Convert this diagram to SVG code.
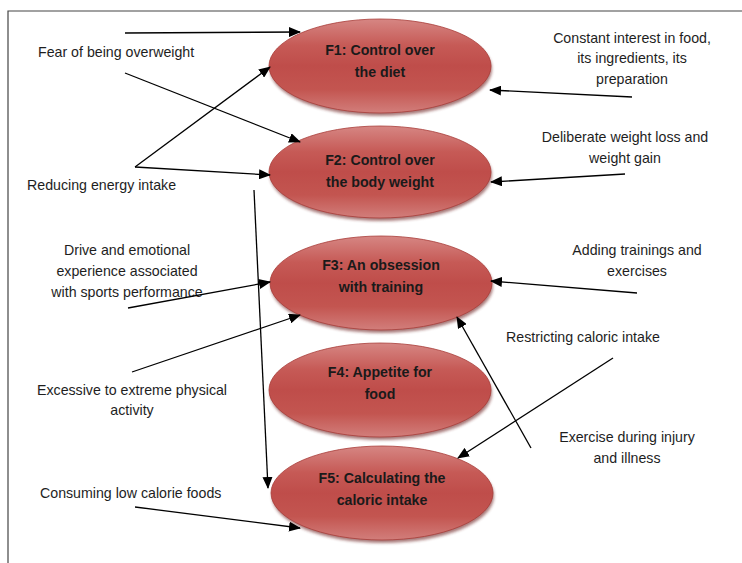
<svg xmlns="http://www.w3.org/2000/svg" width="742" height="563" viewBox="0 0 742 563">
<defs>
<linearGradient id="g" x1="0" y1="0" x2="0" y2="1">
<stop offset="0" stop-color="#d68683"/>
<stop offset="0.28" stop-color="#c65a56"/>
<stop offset="0.5" stop-color="#bf4d4a"/>
<stop offset="0.75" stop-color="#c35550"/>
<stop offset="1" stop-color="#d27e7b"/>
</linearGradient>
<filter id="sh" x="-10%" y="-10%" width="120%" height="130%">
<feGaussianBlur stdDeviation="1.5"/>
</filter>
<marker id="ah" markerUnits="userSpaceOnUse" markerWidth="12" markerHeight="10" refX="11" refY="5" orient="auto">
<path d="M0,0 L12,5 L0,10 z" fill="#000"/>
</marker>
<style>
.ell{fill:url(#g);stroke:#a83c38;stroke-width:0.8}
.shd{fill:#6e2220;opacity:0.6;filter:url(#sh)}
.nt{font-family:"Liberation Sans",Arial,sans-serif;font-weight:bold;font-size:14.2px;fill:#1a1a1a;text-anchor:middle}
.lb{font-family:"Liberation Sans",Arial,sans-serif;font-size:14.2px;fill:#1e1e1e}
.c{text-anchor:middle}
.cn line{stroke:#000;stroke-width:1.3;marker-end:url(#ah)}
.fr{stroke:#444;stroke-width:1.2;fill:none}
</style>
</defs>
<rect width="742" height="563" fill="#fff"/>
<path class="fr" d="M8,563 L8,11 L742,11"/>

<g id="F1"><ellipse class="shd" cx="381" cy="69" rx="111" ry="47"/><ellipse class="ell" cx="380" cy="66" rx="111" ry="47"/><text class="nt" x="380" y="55">F1: Control over</text><text class="nt" x="380" y="77">the diet</text></g>
<g id="F2"><ellipse class="shd" cx="381" cy="175" rx="111" ry="46"/><ellipse class="ell" cx="380" cy="172" rx="111" ry="46"/><text class="nt" x="380" y="165">F2: Control over</text><text class="nt" x="380" y="187">the body weight</text></g>
<g id="F3"><ellipse class="shd" cx="382" cy="286" rx="111" ry="47"/><ellipse class="ell" cx="381" cy="283" rx="111" ry="47"/><text class="nt" x="381" y="270">F3: An obsession</text><text class="nt" x="381" y="292">with training</text></g>
<g id="F4"><ellipse class="shd" cx="381" cy="393" rx="111" ry="47"/><ellipse class="ell" cx="380" cy="390" rx="111" ry="47"/><text class="nt" x="380" y="377">F4: Appetite for</text><text class="nt" x="380" y="399">food</text></g>
<g id="F5"><ellipse class="shd" cx="383" cy="496" rx="111" ry="47"/><ellipse class="ell" cx="382" cy="493" rx="111" ry="47"/><text class="nt" x="382" y="483">F5: Calculating the</text><text class="nt" x="382" y="505">caloric intake</text></g>

<g id="labels">
<text class="lb" x="38" y="57">Fear of being overweight</text>
<text class="lb" x="27" y="190">Reducing energy intake</text>
<text class="lb c" x="632" y="43">Constant interest in food,</text>
<text class="lb c" x="632" y="63">its ingredients, its</text>
<text class="lb c" x="632" y="84">preparation</text>
<text class="lb c" x="625" y="142">Deliberate weight loss and</text>
<text class="lb c" x="625" y="163">weight gain</text>
<text class="lb c" x="127" y="255">Drive and emotional</text>
<text class="lb c" x="127" y="276">experience associated</text>
<text class="lb c" x="127" y="297">with sports performance</text>
<text class="lb c" x="132" y="395">Excessive to extreme physical</text>
<text class="lb c" x="132" y="415">activity</text>
<text class="lb c" x="637" y="255">Adding trainings and</text>
<text class="lb c" x="637" y="276">exercises</text>
<text class="lb c" x="583" y="342">Restricting caloric intake</text>
<text class="lb c" x="627" y="442">Exercise during injury</text>
<text class="lb c" x="627" y="463">and illness</text>
<text class="lb" x="40" y="498">Consuming low calorie foods</text>
</g>

<g id="connectors" class="cn">
<line x1="125" y1="33" x2="300" y2="32"/>
<line x1="125" y1="73" x2="300" y2="142"/>
<line x1="135" y1="167" x2="270" y2="67"/>
<line x1="135" y1="167" x2="270" y2="175"/>
<line x1="632" y1="97" x2="490" y2="90"/>
<line x1="625" y1="174" x2="491" y2="182"/>
<line x1="254" y1="190" x2="268" y2="488"/>
<line x1="128" y1="308" x2="270" y2="282"/>
<line x1="132" y1="372" x2="300" y2="315"/>
<line x1="637" y1="293" x2="491" y2="281"/>
<line x1="531" y1="448" x2="457" y2="317"/>
<line x1="613" y1="358" x2="458" y2="458"/>
<line x1="135" y1="507" x2="300" y2="528"/>
</g>
</svg>
